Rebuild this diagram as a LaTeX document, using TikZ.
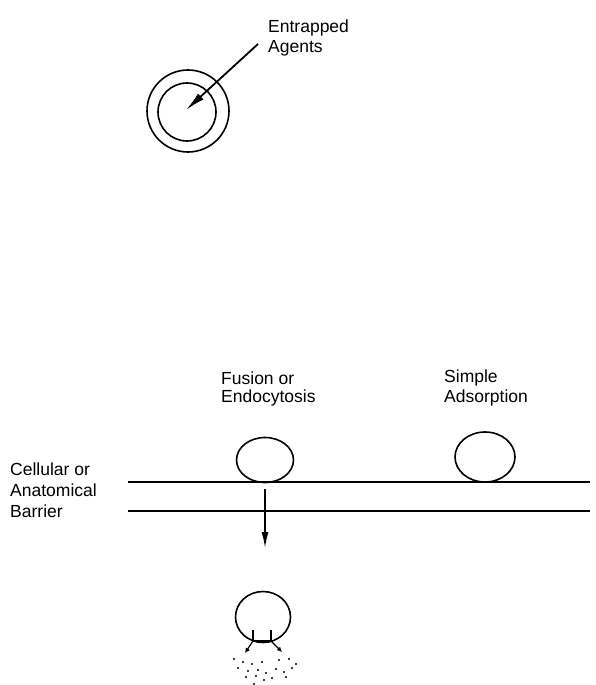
\documentclass[tikz,border=0pt]{standalone}
\usepackage{fontspec}
\setmainfont{Liberation Sans}
\usetikzlibrary{arrows.meta,shapes.geometric}
\begin{document}
\begin{tikzpicture}[x=1pt,y=-1pt,
  lbl/.style={anchor=west,inner sep=0pt,font=\fontsize{17.5}{20}\selectfont},
  ln/.style={line width=1.6pt},
  arr/.style={line width=1.6pt,-{Latex[length=16pt,width=7pt]}},
  small/.style={line width=1.2pt,-{Latex[length=5pt,width=5pt]}},
  dot/.style={fill=black,inner sep=0pt,minimum size=2.2pt,circle}]
\useasboundingbox (0,0) rectangle (595,685);
% top liposome
\node[lbl] (t1) at (268,28) {Entrapped};
\node[lbl] (t2) at (268,48) {Agents};
\node[draw,circle,ln,minimum size=82pt,inner sep=0pt] (outer) at (188,111) {};
\node[draw,circle,ln,minimum size=58pt,inner sep=0pt] (inner) at (187,112) {};
\coordinate (tip) at (186,110);
\coordinate (tail) at (258,44);
\draw[line width=1.8pt,-{Latex[length=20pt,width=8pt]}] (tail) -- (tip);
% labels
\node[lbl] (f1) at (221,378) {Fusion or};
\node[lbl] (f2) at (221,398) {Endocytosis};
\node[lbl] (s1) at (444,378) {Simple};
\node[lbl] (s2) at (444,398) {Adsorption};
\node[lbl] (c1) at (10,469) {Cellular or};
\node[lbl] (c2) at (10,490) {Anatomical};
\node[lbl] (c3) at (10,511) {Barrier};
% barrier lines
\coordinate (l1a) at (128,482); \coordinate (l1b) at (590,482);
\coordinate (l2a) at (128,511); \coordinate (l2b) at (590,511);
\draw[ln] (l1a) -- (l1b);
\draw[ln] (l2a) -- (l2b);
% vesicles
\node[draw,ellipse,ln,minimum width=57pt,minimum height=45pt,inner sep=0pt] (v1) at (265,460) {};
\node[draw,ellipse,ln,minimum width=60pt,minimum height=50pt,inner sep=0pt] (v2) at (485,457) {};
% arrow down
\coordinate (a1) at (265,489);
\coordinate (a2) at (265,548);
\draw[arr] (a1) -- (a2);
% bottom vesicle
\node[draw,ellipse,ln,minimum width=55pt,minimum height=51pt,inner sep=0pt] (v3) at (263,617) {};
\coordinate (p1) at (253,630); \coordinate (p2) at (253,641);
\coordinate (p3) at (271,630); \coordinate (p4) at (271,641);
\coordinate (q1) at (245,653); \coordinate (q2) at (282,652);
\draw[line width=1.2pt] (p1) -- (p2) -- (p4) -- (p3);
\draw[small] (p2) -- (q1);
\draw[small] (p4) -- (q2);
% released agents
\foreach \x/\y in {234/659,243/662,252/664,262/662,279/660,289/659,296/664,
  238/668,248/671,258/670,266/673,276/669,284/672,292/668,
  246/677,256/676,264/680,272/678,286/677,254/684,268/686}
  \node[dot] at (\x,\y) {};
\end{tikzpicture}
\end{document}
